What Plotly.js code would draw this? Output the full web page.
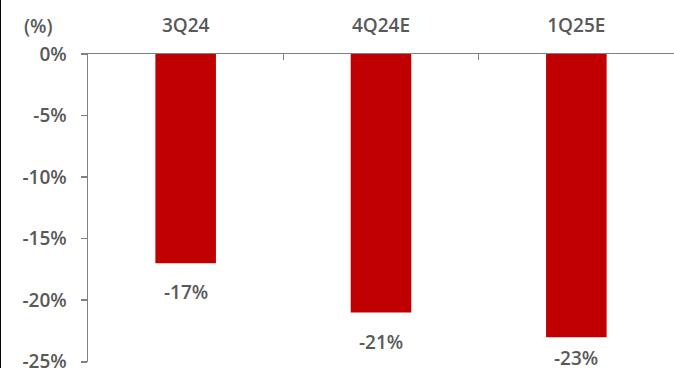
<!DOCTYPE html>
<html>
<head>
<meta charset="utf-8">
<script src="https://cdn.plot.ly/plotly-3.0.1.min.js"></script>
<style>html,body{margin:0;padding:0;background:#fff;}#chart{width:674px;height:368px;}</style>
</head>
<body>
<div id="chart"></div>
<script>
const categories = ["3Q24", "4Q24E", "1Q25E"];
const values = [-17, -21, -23];
const labels = ["-17%", "-21%", "-23%"];
const yTickVals = [0, -5, -10, -15, -20, -25];
const yTickText = ["0%", "-5%", "-10%", "-15%", "-20%", "-25%"];

const textColor = "#595959";
const fontFamily = "Open Sans, Noto Sans, sans-serif";
const W = 674, H = 368, M = {l: 88, r: 0, t: 54, b: 6};
const yMin = -25.02, yMax = 0;
const pxPerUnit = (H - M.t - M.b) / (yMax - yMin);

const tf = {family: fontFamily, size: 19, weight: 600, color: textColor};

const trace = {
  type: "bar",
  x: categories,
  y: values,
  width: 0.31,
  marker: {color: "#C00000", line: {width: 0}},
  hoverinfo: "skip"
};

const annotations = categories.map((c, i) => {
  const barEnd = M.t + (yMax - values[i]) * pxPerUnit;
  const boxTop = Math.min(barEnd + 14, 343);
  return {
    x: c, y: values[i], xref: "x", yref: "y",
    text: labels[i], showarrow: false,
    yanchor: "top", yshift: -(boxTop - barEnd),
    font: tf
  };
});
annotations.push({
  x: -0.086, y: 1.09, xref: "paper", yref: "paper",
  xanchor: "center", yanchor: "middle",
  text: "(%)", showarrow: false,
  font: tf
});

const layout = {
  width: W, height: H,
  margin: M,
  paper_bgcolor: "#fff", plot_bgcolor: "#fff",
  showlegend: false,
  font: tf,
  xaxis: {
    side: "top",
    type: "category",
    range: [-0.5, 2.5],
    showline: true, linecolor: "#808080", linewidth: 1.5,
    ticks: "inside", ticklen: 6, tickwidth: 1.5, tickcolor: "#808080",
    tickson: "boundaries",
    showgrid: false, zeroline: false,
    ticklabelstandoff: 13,
    tickfont: tf
  },
  yaxis: {
    range: [yMin, yMax],
    tickvals: yTickVals, ticktext: yTickText,
    showline: true, linecolor: "#808080", linewidth: 1.5,
    ticks: "outside", ticklen: 6, tickwidth: 1.5, tickcolor: "#808080",
    showgrid: false, zeroline: false,
    ticklabelstandoff: 10,
    ticklabeloverflow: "allow",
    tickfont: tf
  },
  annotations: annotations,
  shapes: [{type: "line", xref: "paper", yref: "paper", x0: -0.1502, x1: -0.1502, y0: -0.05, y1: 1.2, line: {color: "#000", width: 2}}]
};

Plotly.newPlot("chart", [trace], layout, {displayModeBar: false, staticPlot: true});
</script>
</body>
</html>
